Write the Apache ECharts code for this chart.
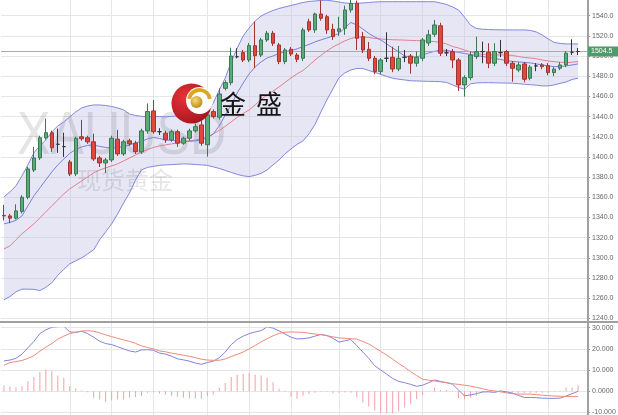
<!DOCTYPE html>
<html><head><meta charset="utf-8">
<script src="https://cdn.jsdelivr.net/npm/echarts@6/dist/echarts.min.js"></script>
<style>html,body{margin:0;padding:0;background:#fff}#c{width:618px;height:415px}</style>
</head><body><div id="c"></div>
<script>
// ---- candle data ----
const opens = [1342,1341.5,1339.3,1346,1360,1387,1399,1419,1424,1412.5,
1410.2,1395,1383.2,1420,1419,1415,1399,1394,1397,1417.6,
1403,1416,1413.6,1405,1425.8,1445.6,1425,1423.5,1416.9,1425,
1413.6,1418.5,1425.8,1431.7,1412,1444.9,1439.4,1468,1473.6,1499.3,
1503.4,1496.1,1510.3,1501,1516,1522.6,1511,1494.5,1506.7,1501,
1497.8,1534,1525.9,1541.7,1539,1526.6,1524.5,1527.5,1545.7,1552.3,
1519.2,1506.7,1497.8,1484.6,1497.8,1498.8,1487.2,1498.8,1500,1492.9,
1497.8,1513,1521.6,1530,1503.2,1504.4,1496.1,1471.4,1478.6,1499.4,
1504.4,1503.8,1492.9,1503.4,1504.4,1492.9,1486.2,1492.2,1478,1490.2,
1491.2,1490.5,1483.6,1487.9,1491.2,1503.8,1504.5];
const closes = [1341.5,1339.3,1346.5,1360,1388,1399,1419,1424,1409,1412.5,
1410.2,1383,1418.5,1418,1415,1398,1394,1397,1418.5,1403,
1415,1413,1405.3,1425.8,1445,1425,1425,1416.9,1425,1413.6,
1418.5,1425.8,1430,1413.6,1441.6,1440,1462.4,1473.6,1500,1499.3,
1496,1510.3,1500.4,1516,1522.6,1512.7,1494.5,1506,1502,1496.8,
1525.9,1525.9,1541.7,1537.5,1525.9,1519.2,1527,1545.7,1552.3,1517.6,
1506,1497.8,1484.6,1496.1,1497.8,1487.2,1497.8,1498.8,1492.9,1498.8,
1516,1521,1530.8,1502.8,1503.2,1496.1,1471.4,1478.6,1501,1504.4,
1504.4,1492.9,1504.4,1503.4,1492.9,1487.9,1491.2,1477,1489,1490.2,
1489.5,1483.6,1487,1491.2,1502.8,1503.8,1504.5];
const lows = [1336.9,1334.3,1338,1344,1358,1385,1397,1417,1405,1404,
1400,1381,1381,1416,1413,1396,1390,1384,1395,1401,
1401,1411,1403,1403,1423,1423,1421.8,1414,1415,1410,
1412,1416,1424,1411,1400.3,1438,1437,1466,1471,1497.8,
1494,1494,1488,1499,1514,1510,1492,1492,1500,1494,
1495,1524,1523,1535,1522,1516,1520,1521,1543,1506,
1503,1495,1482,1482,1494,1484,1485,1494,1482.6,1489.5,
1495,1510,1519,1500,1500,1488,1465.4,1459.8,1476,1497,
1492.9,1488,1490,1499,1490,1474.6,1484,1474,1476,1485,
1487,1481,1480,1486,1489,1501,1501];
const highs = [1352.4,1343.5,1353,1362,1390,1410,1421,1438,1426,1428,
1424,1397,1420,1436.7,1421,1423,1401,1399,1421,1426.8,
1417,1418,1416,1428,1453,1456.5,1428.5,1426,1427,1427,
1420,1428,1433,1436.7,1444,1447,1468,1476,1508.3,1507.7,
1506,1513,1534,1518,1525,1525,1513,1508,1509,1503,
1528,1537,1543,1555,1541,1532,1539,1550,1556,1555,
1524,1514,1500,1498,1523.6,1509.3,1510,1506,1502,1504.4,
1518,1526,1535.8,1533,1507,1507,1498,1481,1504.4,1519.2,
1514.3,1512.7,1512.7,1516,1506,1495,1494,1494,1491,1493,
1493,1493,1489,1494,1505,1516.6,1508];

// ---- Bollinger bands and moving average ----
const bbUpper = [1360.4,1365.3,1371.3,1381.2,1392.1,1404,1410.9,1416.9,1424.8,1430.7,
1434.7,1439.7,1444.6,1448.6,1450.5,1451.5,1451.5,1451,1450,1448.6,
1446.6,1442.6,1441.1,1440.2,1439.7,1440.2,1440,1439.7,1440.2,1440.6,
1441.1,1441.6,1441.6,1441.6,1443.6,1453.5,1466.4,1478.3,1494.2,1508,
1519.9,1527.9,1534.8,1539.7,1542.7,1545.2,1547.2,1548.7,1550.1,1551.6,
1553.1,1554.1,1554.6,1555.1,1555.3,1554.6,1553.6,1552.6,1552.1,1552.3,
1552.6,1553.1,1553.6,1553.8,1553.9,1553.9,1553.9,1553.9,1553.9,1553.9,
1553.9,1553.9,1553.9,1552.6,1551.1,1548.7,1545.7,1538.8,1530.8,1527.4,
1526.6,1526.3,1526.1,1526,1525.9,1525.9,1525.9,1525.9,1525.4,1523.9,
1520.9,1517,1513.5,1512.5,1512,1512,1512];
const bbLower = [1258.3,1261.6,1266.2,1268.9,1268.9,1268.7,1267.5,1270.7,1275.2,1282.6,
1288.5,1294,1297,1299.9,1303.9,1307.9,1317.8,1325.7,1333.6,1343.5,
1354.4,1364.3,1377.2,1387.1,1389.6,1390.6,1391.6,1392.1,1392.4,1392.7,
1393.1,1392.9,1392.5,1392.1,1391.6,1390.1,1388.6,1386.6,1384.7,1382.7,
1381.2,1380.5,1381.7,1383.7,1387.1,1392.1,1397,1403,1407.9,1412.4,
1415.9,1422.8,1432.2,1444.6,1456.5,1467.4,1478.3,1483.3,1486.2,1487.7,
1487.7,1485.7,1483.8,1481.8,1479.8,1478,1477,1476.3,1475.5,1475.3,
1475.1,1474.9,1474.8,1474.6,1473.8,1471.4,1468.9,1467.1,1472.4,1473.3,
1473.6,1473.6,1473.5,1473.3,1473.2,1473.1,1472.6,1472.1,1471.6,1471.1,
1470.4,1470.4,1471.4,1472.9,1474.3,1476.8,1478];
const bbMid = [1308.8,1311.8,1317.8,1323.7,1328.7,1333.6,1339.6,1345.5,1351.5,1357.4,
1363.3,1368.3,1372.3,1376.2,1380.2,1384.2,1387.1,1389.1,1391.1,1393.1,
1396,1399,1402,1404.9,1407.4,1409.4,1410.9,1411.9,1412.9,1413.9,
1414.9,1415.9,1416.9,1417.9,1419.8,1422.8,1426.3,1430.2,1434.7,1439.2,
1443.1,1446.6,1451.5,1457,1461.5,1465.4,1469.4,1473.8,1478.3,1482.3,
1485.7,1490.7,1496.1,1500.6,1505.1,1509,1512,1515,1517.4,1518.9,
1518.9,1518.4,1517.4,1517,1516.5,1516.2,1516,1515.8,1515.5,1515.3,
1515,1514.8,1514.3,1513.5,1512,1509.5,1508,1506,1504.1,1502.6,
1501.6,1501.1,1501.1,1501.1,1501.1,1500.6,1499.6,1498.6,1498.1,1497.3,
1496.1,1495.1,1494.4,1493.9,1493.5,1493.9,1494.5];
const maLine = [1333.6,1335.1,1337.1,1341.5,1351.5,1361.4,1369.3,1377.2,1385.1,1392.1,
1398,1403.5,1407.4,1409.9,1411.4,1411.9,1410.4,1409.4,1408.6,1409.4,
1410.4,1411.9,1413.9,1415.4,1417.9,1419.3,1418.3,1416.9,1416.4,1415.9,
1415.4,1415.4,1415.9,1416.9,1418.8,1422.8,1430.7,1441.6,1451.5,1463.4,
1473.3,1482.3,1489.2,1494.2,1498.1,1500.1,1502.6,1504.1,1505.6,1507,
1509.5,1511.5,1514,1516,1517.9,1519.9,1522.4,1527.9,1533.3,1530.8,
1526.9,1522.4,1518.9,1516,1512,1508,1504.1,1500.1,1499.1,1499.1,
1501.1,1503.1,1504.6,1506.1,1505.6,1504.6,1503.6,1502.6,1501.6,1500.6,
1499.6,1498.6,1497.6,1496.6,1495.6,1494.7,1494.2,1493.7,1493.2,1492.2,
1491.2,1490.2,1489.5,1489.7,1490.2,1491.2,1492.2];

// ---- MACD ----
const macdDif = [14.3,14.7,15.5,17.5,20.5,23.5,27.2,29,30.2,30.5,
30.7,28,27.8,28.3,27.2,25.5,23.6,22.5,22,21,
20,19,18.5,19.5,19.6,19.3,18,17.5,16.5,15.3,
14.8,14.2,13.3,12.7,13.5,14.2,15.8,18.5,22,24.4,
26,27.2,28,28.6,30.4,29.8,28.5,27,25.5,24.7,
24.8,25.2,26,26.8,26.3,25,23.2,23.8,24.4,21.5,
18.5,15.5,12,10,8,6,4.6,4,3.2,2.3,
2.8,4,5.3,4.6,4,3.3,0.5,-2.2,-1.8,-1.2,
-0.4,-0.3,-0.6,0.1,-0.3,-0.9,-2,-3,-3,-3.1,
-3.3,-3.4,-3.4,-3.3,-2.3,-1.2,-0.1];
const macdDea = [12.2,13.5,14,14.5,15.5,16.8,18.9,20.8,22.5,24.6,
26,27.2,27.9,28.4,28.6,28.3,27.6,26.6,25.8,25,
24.2,23.5,22.6,21.4,20.6,20,19,18.6,18,17.5,
17,16.5,15.8,15.1,14.7,14.6,14.6,15.2,16.4,17.4,
18.5,20,21.6,23.3,24.8,26.2,27.3,27.9,28,27.9,
27.8,27.4,27,26.7,26.2,25.7,25.2,25,24.8,24.6,
23.5,22.3,20.6,18.8,17,15.1,13.1,11.3,9.2,7.4,
5.6,5.2,4.8,4.4,4,3.5,3.2,2.8,2.4,1.8,
1.2,0.5,0.1,-0.3,-0.8,-1.2,-1.4,-1.4,-1.4,-1.6,
-1.9,-2.1,-2.3,-2.4,-2.5,-2.5,-2.5];
const macdHist = [2.7,2.3,1.9,2.3,4.7,6.7,9.1,10.2,9.4,7.4,
6.3,2.3,1.3,0.3,-0.5,-3.1,-3.9,-5,-4.4,-3.9,
-3.9,-3.1,-2.8,-2.3,-0.8,-0.5,-1.1,-1.7,-2,-2.7,
-3.1,-3.3,-3.3,-3.6,-2.3,-1.6,1.6,3.9,6.7,7.8,
8.1,8.6,7.8,7.4,6.3,4.2,1.1,0.3,-2.7,-3.6,
-2.2,-1.4,-0.8,-0.3,-0.3,-1,-0.8,-0.6,-0.8,-3,
-5.3,-7.2,-9.2,-10.3,-10.6,-10.6,-9.5,-7.7,-6.1,-3.8,
-1.9,0,1.7,0.6,0.6,0.2,-3.4,-3.8,-3,-2.2,
-0.6,-0.3,0.2,0.2,-0.2,-0.6,-0.9,-0.9,-0.9,-0.9,
-0.9,-0.6,-0.3,0.2,1.7,1.7,2.8];

// ---- axis ticks ----
const priceTicks = [1240,1260,1280,1300,1320,1340,1360,1380,1400,1420,1440,1460,1480,1500,1520,1540];
const macdTicks = [-10,0,10,20,30];
const dividerIndex = [11,18,25,34,41,48,56,63,70,77,84,91];

// ---- build ----
const N = opens.length;
const categories = opens.map((_, i) => 'K' + (i + 1)).concat(['']);
const candleData = opens.map((o, i) => [o, closes[i], lows[i], highs[i]]);
const bandWidth = bbUpper.map((u, i) => +(u - bbLower[i]).toFixed(2));
const lastClose = closes[N - 1];

const SLOT = 5.98;
const FONT = '"Liberation Sans", Arial, sans-serif';
const GRIDC = '#e6e6e6';

const chart = echarts.init(document.getElementById('c'), null, {renderer: 'canvas'});

const hiddenCat = (gi) => ({gridIndex: gi, type: 'category', data: categories, boundaryGap: true, show: false});
const frameCat = (gi) => ({
  gridIndex: gi, type: 'category', data: categories, boundaryGap: false,
  axisLine: {show: false}, axisTick: {show: false}, axisLabel: {show: false},
  splitLine: {show: true, interval: (idx) => dividerIndex.includes(idx), lineStyle: {color: GRIDC, width: 1}}
});

const option = {
  animation: false,
  backgroundColor: '#fff',
  textStyle: {fontFamily: FONT},
  grid: [
    {left: 1, width: SLOT * (N + 1), top: 15.7, height: 302.6, containLabel: false, outerBoundsMode: 'none'},
    {left: 1, width: SLOT * (N + 1), top: 327.7, height: 84.6, containLabel: false, outerBoundsMode: 'none'},
    {left: 4, width: SLOT * N, top: 0, height: 322, containLabel: false, outerBoundsMode: 'none'},
    {left: 4, width: SLOT * N, top: 323, height: 92, containLabel: false, outerBoundsMode: 'none'}
  ],
  xAxis: [hiddenCat(0), hiddenCat(1), frameCat(2), frameCat(3)],
  yAxis: [
    {gridIndex: 0, type: 'value', position: 'right',
     min: priceTicks[0], max: priceTicks[priceTicks.length - 1], interval: priceTicks[1] - priceTicks[0],
     axisLine: {show: false}, axisTick: {show: true, length: 3, lineStyle: {color: '#999'}},
     axisLabel: {margin: 5, fontSize: 7, color: '#666', fontFamily: FONT, formatter: (v) => v.toFixed(1)},
     splitLine: {show: true, lineStyle: {color: GRIDC, width: 1}}},
    {gridIndex: 1, type: 'value', position: 'right',
     min: macdTicks[0], max: macdTicks[macdTicks.length - 1], interval: macdTicks[1] - macdTicks[0],
     axisLine: {show: false}, axisTick: {show: true, length: 3, lineStyle: {color: '#999'}},
     axisLabel: {margin: 5, fontSize: 7, color: '#666', fontFamily: FONT, formatter: (v) => v.toPrecision(5)},
     splitLine: {show: true, lineStyle: {color: GRIDC, width: 1}}},
    {gridIndex: 2, type: 'value', show: false},
    {gridIndex: 3, type: 'value', show: false}
  ],
  series: [
    {type: 'line', name: 'bbBase', xAxisIndex: 0, yAxisIndex: 0, data: bbLower, stack: 'bb', symbol: 'none',
     lineStyle: {opacity: 0}, silent: true, clip: false, z: 1},
    {type: 'line', name: 'bbFill', xAxisIndex: 0, yAxisIndex: 0, data: bandWidth, stack: 'bb', symbol: 'none',
     lineStyle: {opacity: 0}, areaStyle: {color: 'rgba(196,196,232,0.42)', opacity: 1}, silent: true, clip: false, z: 1},
    {type: 'line', name: 'upper', xAxisIndex: 0, yAxisIndex: 0, data: bbUpper, symbol: 'none',
     lineStyle: {color: '#8387dc', width: 1}, silent: true, clip: false, z: 3},
    {type: 'line', name: 'lower', xAxisIndex: 0, yAxisIndex: 0, data: bbLower, symbol: 'none',
     lineStyle: {color: '#8387dc', width: 1}, silent: true, clip: false, z: 3},
    {type: 'line', name: 'mid', xAxisIndex: 0, yAxisIndex: 0, data: bbMid, symbol: 'none',
     lineStyle: {color: '#e3808a', width: 1}, silent: true, clip: false, z: 3},
    {type: 'line', name: 'ma', xAxisIndex: 0, yAxisIndex: 0, data: maLine, symbol: 'none',
     lineStyle: {color: '#7a7fdc', width: 1}, silent: true, clip: false, z: 3},
    {type: 'candlestick', name: 'XAUUSD', xAxisIndex: 0, yAxisIndex: 0, data: candleData, barWidth: 4,
     clip: false, silent: true, z: 5,
     itemStyle: {color: '#5aab7a', color0: '#e2463d', borderColor: '#3a7752', borderColor0: '#9e3630',
                 borderColorDoji: '#333', borderWidth: 1},
     markLine: {
       silent: true, symbol: ['none', 'none'], animation: false,
       lineStyle: {color: '#aaaaaa', width: 1, type: 'solid'},
       label: {show: true, position: 'end', distance: 1, formatter: lastClose.toFixed(1),
               backgroundColor: '#4f9c6b', color: '#fff', fontSize: 7, fontFamily: FONT,
               padding: [1, 8, 1, 3], lineHeight: 8},
       data: [{yAxis: lastClose}]
     }},
    {type: 'bar', name: 'hist', xAxisIndex: 1, yAxisIndex: 1, data: macdHist, barWidth: 1,
     itemStyle: {color: '#f2a0a8'}, silent: true, clip: false, z: 2},
    {type: 'line', name: 'dif', xAxisIndex: 1, yAxisIndex: 1, data: macdDif, symbol: 'none',
     lineStyle: {color: '#8084dc', width: 1}, silent: true, z: 3},
    {type: 'line', name: 'dea', xAxisIndex: 1, yAxisIndex: 1, data: macdDea, symbol: 'none',
     lineStyle: {color: '#ef8a7c', width: 1}, silent: true, z: 3}
  ],
  graphic: [
    {type: 'text', x: 17, y: 137, scaleX: 0.81, z: 2, silent: true,
     style: {text: 'XAUUSD', font: '62px "Liberation Sans", Arial, sans-serif', fill: 'rgba(0,0,0,0.10)', verticalAlign: 'middle'}},
    {type: 'text', x: 77, y: 180, z: 2, silent: true,
     style: {text: '现货黄金', font: '24px "Noto Sans CJK SC"', fill: 'rgba(0,0,0,0.10)', verticalAlign: 'middle'}},
    {type: 'line', z: 4, silent: true, shape: {x1: 588, y1: 0, x2: 588, y2: 415}, style: {stroke: '#a0a0a0', lineWidth: 2}},
    {type: 'line', z: 4, silent: true, shape: {x1: 0, y1: 322, x2: 618, y2: 322}, style: {stroke: '#a0a0a0', lineWidth: 2}},
    {type: 'circle', z: 10, silent: true, shape: {cx: 191.5, cy: 103.5, r: 20},
     style: {fill: new echarts.graphic.RadialGradient(0.35, 0.35, 0.8, [{offset: 0, color: '#e8333a'}, {offset: 1, color: '#a0101a'}])}},
    {type: 'circle', z: 11, silent: true, shape: {cx: 199.5, cy: 100.5, r: 13.5}, style: {fill: '#ffffff'}},
    {type: 'arc', z: 12, silent: true, shape: {cx: 199.5, cy: 100.5, r: 10.5, startAngle: Math.PI * 1.05, endAngle: Math.PI * 1.95},
     style: {stroke: '#d8a824', lineWidth: 4, fill: null}},
    {type: 'circle', z: 12, silent: true, shape: {cx: 196.5, cy: 102, r: 6},
     style: {fill: new echarts.graphic.RadialGradient(0.4, 0.35, 0.7, [{offset: 0, color: '#f6dc7a'}, {offset: 1, color: '#b8860b'}])}},
    {type: 'text', x: 220, y: 104, z: 12, silent: true,
     style: {text: '金', font: '26px "Noto Sans CJK SC"', fill: '#151515', verticalAlign: 'middle'}},
    {type: 'text', x: 256, y: 104, z: 12, silent: true,
     style: {text: '盛', font: '26px "Noto Sans CJK SC"', fill: '#151515', verticalAlign: 'middle'}}
  ]
};
chart.setOption(option);
</script></body></html>
